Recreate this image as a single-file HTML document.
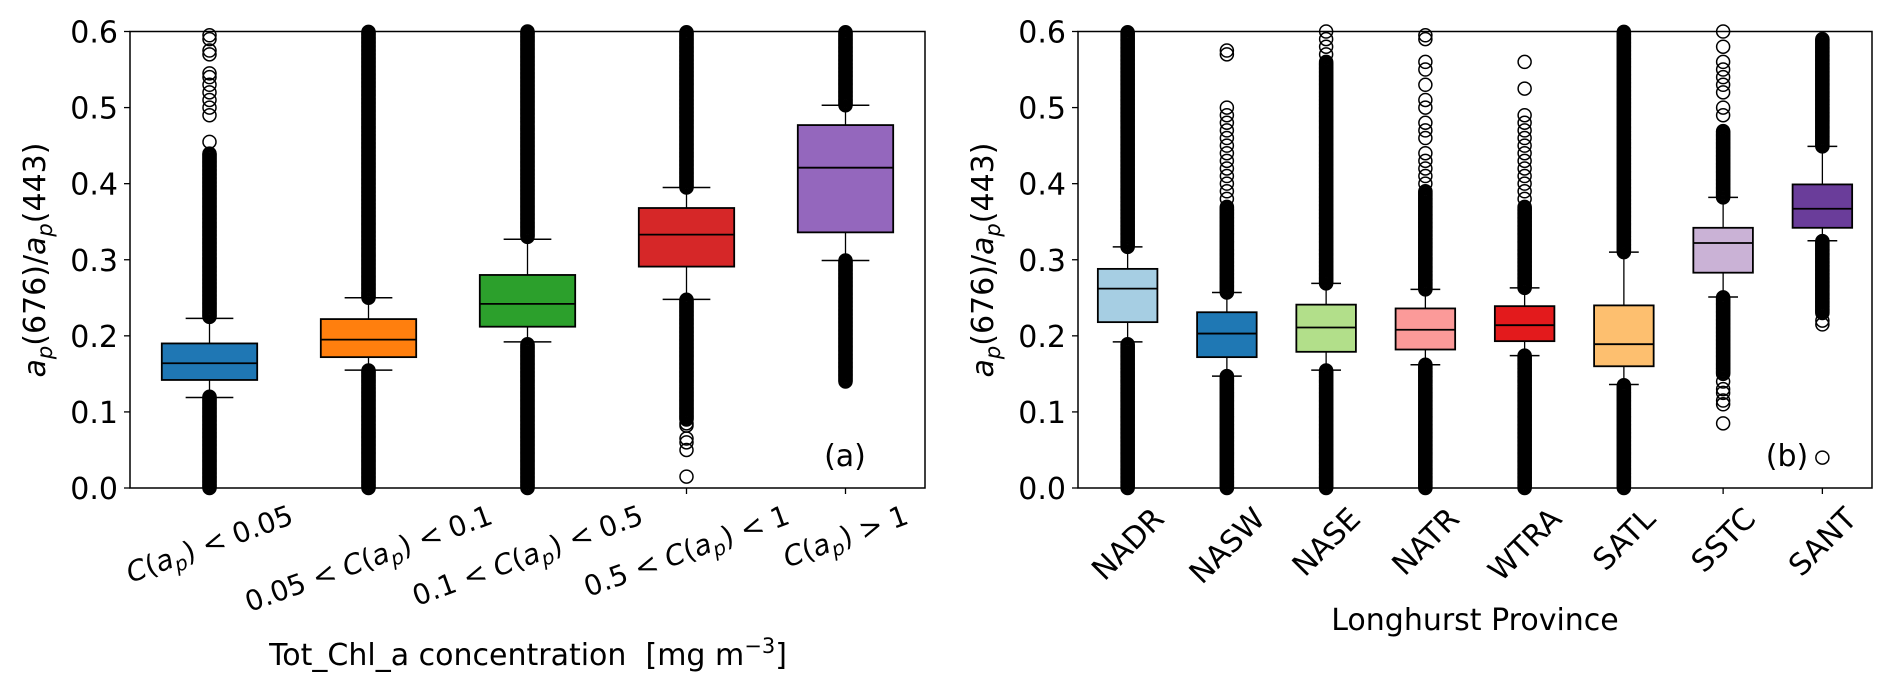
<!DOCTYPE html>
<html><head><meta charset="utf-8"><style>
html,body{margin:0;padding:0;background:#fff;}
svg{display:block;font-family:"DejaVu Sans","Liberation Sans",sans-serif;}
</style></head><body>
<svg id="fig" width="1892" height="693" viewBox="0 0 1892 693" xmlns="http://www.w3.org/2000/svg">
<rect width="1892" height="693" fill="#fff"/>
<g id="panelA"></g>
<g id="panelB"></g>
</svg>
<script>
// ---- Panel (a) data ----
const catsA = ["lt005","005to01","01to05","05to1","gt1"];
const colorsA = ["#1f77b4","#ff7f0e","#2ca02c","#d62728","#9467bd"];
const q1A = [0.142,0.172,0.212,0.291,0.336];
const medA = [0.164,0.195,0.242,0.333,0.421];
const q3A = [0.190,0.222,0.280,0.368,0.477];
const wLoA = [0.119,0.155,0.192,0.248,0.299];
const wHiA = [0.223,0.250,0.327,0.395,0.503];
const denseA = [[[0,0.12],[0.225,0.44]],[[0,0.155],[0.25,0.6]],[[0,0.19],[0.33,0.6]],[[0.09,0.248],[0.395,0.6]],[[0.14,0.299],[0.503,0.6]]];
const sparseA = [[0.455,0.49,0.5,0.51,0.52,0.53,0.54,0.545,0.57,0.575,0.59,0.595],[],[],[0.085,0.082,0.065,0.06,0.05,0.015],[]];
// ---- Panel (b) data ----
const catsB = ["NADR","NASW","NASE","NATR","WTRA","SATL","SSTC","SANT"];
const colorsB = ["#a6cee3","#1f78b4","#b2df8a","#fb9a99","#e31a1c","#fdbf6f","#cab2d6","#6a3d9a"];
const q1B = [0.218,0.172,0.179,0.182,0.193,0.160,0.283,0.342];
const medB = [0.262,0.203,0.211,0.208,0.214,0.189,0.322,0.367];
const q3B = [0.288,0.231,0.241,0.236,0.239,0.240,0.342,0.399];
const wLoB = [0.192,0.147,0.155,0.162,0.174,0.136,0.251,0.325];
const wHiB = [0.317,0.257,0.269,0.261,0.263,0.310,0.382,0.449];
const denseB = [[[0,0.19],[0.317,0.6]],[[0,0.147],[0.257,0.37]],[[0,0.155],[0.269,0.56]],[[0,0.162],[0.261,0.39]],[[0,0.174],[0.263,0.37]],[[0,0.136],[0.31,0.6]],[[0.15,0.251],[0.382,0.47]],[[0.23,0.325],[0.449,0.59]]];
const sparseB = [[],[0.38,0.39,0.4,0.41,0.42,0.43,0.44,0.45,0.46,0.47,0.48,0.49,0.5,0.57,0.575],[0.57,0.58,0.59,0.6],[0.40,0.41,0.42,0.43,0.44,0.46,0.47,0.48,0.5,0.51,0.53,0.55,0.56,0.59,0.595],[0.38,0.39,0.4,0.41,0.42,0.43,0.44,0.45,0.46,0.47,0.48,0.49,0.525,0.56],[],[0.085,0.11,0.115,0.125,0.13,0.14,0.49,0.5,0.52,0.53,0.54,0.55,0.56,0.58,0.6],[0.215,0.22,0.04]];
const yTicks = [0.0,0.1,0.2,0.3,0.4,0.5,0.6];
const yTickLabels = ["0.0","0.1","0.2","0.3","0.4","0.5","0.6"];

const NS="http://www.w3.org/2000/svg";
const TOP=31.5, BOT=488, YMAX=0.6;
function yS(v){return BOT-(v/YMAX)*(BOT-TOP);}
function mk(tag,attrs,parent){const e=document.createElementNS(NS,tag);for(const k in attrs)e.setAttribute(k,attrs[k]);parent.appendChild(e);return e;}

function drawPanel(g,L,R,cats,colors,q1,med,q3,wLo,wHi,dense,sparse,tag){
  const n=cats.length, step=(R-L)/n;
  const xS=i=>L+(i+0.5)*step;
  const bw=step*0.6, cw=bw/2;
  const frame=mk('rect',{x:L,y:TOP,width:R-L,height:BOT-TOP,fill:'none',stroke:'#000','stroke-width':1.5},g);
  
  
  yTicks.forEach((t,k)=>{
    const tk=mk('line',{x1:L-6,x2:L,y1:yS(t),y2:yS(t),stroke:'#000','stroke-width':1.3},g);
    
    
    const tl=mk('text',{x:L-12,y:yS(t)+11,'text-anchor':'end','font-size':30},g);
    tl.textContent=yTickLabels[k];
    
    
  });
  for(let i=0;i<n;i++){
    const x=xS(i);
    const bg=mk('g',{},g);
    
    
    dense[i].forEach(r=>{
      for(let v=r[0];v<=r[1]+1e-9;v+=0.0015){
        mk('circle',{cx:x,cy:yS(v),r:6.5,fill:'none',stroke:'#000','stroke-width':1.5},bg);
      }
    });
    sparse[i].forEach(v=>{
      const c=mk('circle',{cx:x,cy:yS(v),r:6.5,fill:'none',stroke:'#000','stroke-width':1.5},bg);
      
      
    });
    mk('line',{x1:x,x2:x,y1:yS(q1[i]),y2:yS(wLo[i]),stroke:'#000','stroke-width':1.3},bg);
    mk('line',{x1:x,x2:x,y1:yS(q3[i]),y2:yS(wHi[i]),stroke:'#000','stroke-width':1.3},bg);
    mk('line',{x1:x-cw/2,x2:x+cw/2,y1:yS(wLo[i]),y2:yS(wLo[i]),stroke:'#000','stroke-width':1.5},bg);
    mk('line',{x1:x-cw/2,x2:x+cw/2,y1:yS(wHi[i]),y2:yS(wHi[i]),stroke:'#000','stroke-width':1.5},bg);
    mk('rect',{x:x-bw/2,y:yS(q3[i]),width:bw,height:yS(q1[i])-yS(q3[i]),fill:colors[i],stroke:'#000','stroke-width':1.8},bg);
    mk('line',{x1:x-bw/2,x2:x+bw/2,y1:yS(med[i]),y2:yS(med[i]),stroke:'#000','stroke-width':1.8},bg);
    const xt=mk('line',{x1:x,x2:x,y1:BOT,y2:BOT+6,stroke:'#000','stroke-width':1.3},g);
    
    
  }
  return xS;
}

const gA=document.getElementById('panelA');
const xA=drawPanel(gA,130,925,catsA,colorsA,q1A,medA,q3A,wLoA,wHiA,denseA,sparseA,'a');
const gB=document.getElementById('panelB');
const xB=drawPanel(gB,1078,1872,catsB,colorsB,q1B,medB,q3B,wLoB,wHiB,denseB,sparseB,'b');

function rotLabel(g,x,y0,html,deg,fs,name){
  const t=mk('text',{x:0,y:0,'text-anchor':'middle','font-size':fs},g);
  t.innerHTML=html;
  
  
  const len=t.getComputedTextLength();
  const a=deg*Math.PI/180, h=fs*1.05;
  const H=len*Math.sin(a)+h*Math.cos(a);
  const cy=y0+H/2;
  t.setAttribute('transform','translate('+x+','+cy+') rotate('+(-deg)+') translate(0,'+(fs*0.35)+')');
}
const xLabA=[
 '<tspan font-style="italic">C</tspan>(<tspan font-style="italic">a</tspan><tspan font-size="20" dy="6" font-style="italic">p</tspan><tspan dy="-6">) &lt; 0.05</tspan>',
 '0.05 &lt; <tspan font-style="italic">C</tspan>(<tspan font-style="italic">a</tspan><tspan font-size="20" dy="6" font-style="italic">p</tspan><tspan dy="-6">) &lt; 0.1</tspan>',
 '0.1 &lt; <tspan font-style="italic">C</tspan>(<tspan font-style="italic">a</tspan><tspan font-size="20" dy="6" font-style="italic">p</tspan><tspan dy="-6">) &lt; 0.5</tspan>',
 '0.5 &lt; <tspan font-style="italic">C</tspan>(<tspan font-style="italic">a</tspan><tspan font-size="20" dy="6" font-style="italic">p</tspan><tspan dy="-6">) &lt; 1</tspan>',
 '<tspan font-style="italic">C</tspan>(<tspan font-style="italic">a</tspan><tspan font-size="20" dy="6" font-style="italic">p</tspan><tspan dy="-6">) &gt; 1</tspan>'];
xLabA.forEach((s,i)=>rotLabel(gA,xA(i),500,s,20,28,'x-tick-label'));
catsB.forEach((s,i)=>rotLabel(gB,xB(i),502,s,45,30,'x-tick-label'));

function ylab(g,x,name){
  const t=mk('text',{'text-anchor':'middle','font-size':30,transform:'translate('+x+',260) rotate(-90)'},g);
  t.innerHTML='<tspan font-style="italic">a</tspan><tspan font-size="21" dy="7" font-style="italic">p</tspan><tspan dy="-7">(676)/</tspan><tspan font-style="italic">a</tspan><tspan font-size="21" dy="7" font-style="italic">p</tspan><tspan dy="-7">(443)</tspan>';
  
  
}
ylab(gA,45,'y-axis-title');
ylab(gB,993,'y-axis-title');

let t=mk('text',{x:528,y:665,'text-anchor':'middle','font-size':30,style:'white-space:pre'},gA);
t.innerHTML='Tot_Chl_a concentration  [mg m<tspan font-size="21" dy="-12">−3</tspan><tspan dy="12">]</tspan>';


t=mk('text',{x:1475,y:630,'text-anchor':'middle','font-size':30},gB);
t.textContent='Longhurst Province';


t=mk('text',{x:845,y:466,'text-anchor':'middle','font-size':30},gA);
t.textContent='(a)';


t=mk('text',{x:1787,y:466,'text-anchor':'middle','font-size':30},gB);
t.textContent='(b)';


</script>
</body></html>
